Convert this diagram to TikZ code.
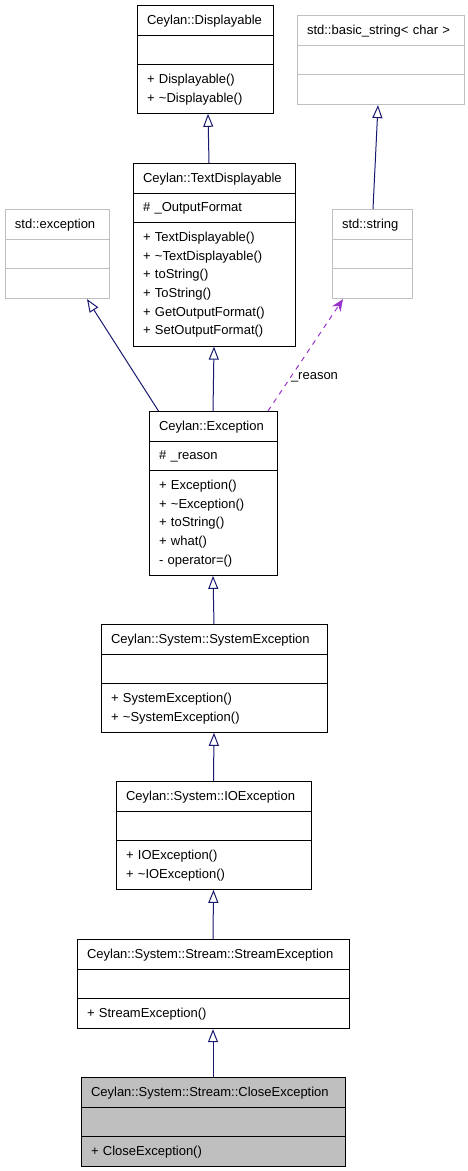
\documentclass[tikz,border=0pt]{standalone}
\usepackage{fontspec}
\setmainfont{Liberation Sans}
\usepackage{tikz}
\usetikzlibrary{arrows.meta,shapes.multipart}
\usepackage{xcolor}
\definecolor{edgeblue}{RGB}{25,25,112}
\definecolor{refpurple}{RGB}{154,50,205}
\definecolor{extgray}{RGB}{191,191,191}
\newcommand{\umlfont}{\fontsize{13}{18.7}\selectfont}
\tikzstyle{umlclass} = [rectangle split, rectangle split parts=3, draw=black, line width=1pt, inner xsep=10pt, inner ysep=5pt, font=\umlfont, align=left, anchor=north]
\tikzstyle{extclass} = [umlclass, draw=extgray]
\tikzstyle{inherit} = [line width=1pt, edgeblue, -{Triangle[open, length=13pt, width=10pt]}]
\tikzstyle{usage} = [line width=1pt, refpurple, dash pattern=on 5pt off 5pt, -{Stealth[length=12pt, width=10pt]}]

\begin{document}
\begin{tikzpicture}[x=1pt, y=-1pt]
    \useasboundingbox (0,0) rectangle (468,1171);

    % Bases at the top
    \node[umlclass, text width=116pt] (disp) at (205,5) {\centering\strut Ceylan::Displayable
        \nodepart{second}\strut
        \nodepart{third}\strut + Displayable()\\+ \textasciitilde Displayable()\strut};
    \node[extclass, text width=147pt] (bstr) at (380.5,15) {\centering\strut std::basic\_string< char >
        \nodepart{second}\strut
        \nodepart{third}\strut};

    % Second level
    \node[umlclass, text width=142pt] (tdisp) at (214,163) {\centering\strut Ceylan::TextDisplayable
        \nodepart{second}\strut \# \_OutputFormat
        \nodepart{third}\strut + TextDisplayable()\\+ \textasciitilde TextDisplayable()\\+ toString()\\+ ToString()\\+ GetOutputFormat()\\+ SetOutputFormat()\strut};
    \node[extclass, text width=84pt] (stdexc) at (57,209) {\centering\strut std::exception
        \nodepart{second}\strut
        \nodepart{third}\strut};
    \node[extclass, text width=60pt] (str) at (372,209) {\centering\strut std::string
        \nodepart{second}\strut
        \nodepart{third}\strut};

    % Exception chain
    \node[umlclass, text width=108pt] (exc) at (213,411) {\centering\strut Ceylan::Exception
        \nodepart{second}\strut \# \_reason
        \nodepart{third}\strut + Exception()\\+ \textasciitilde Exception()\\+ toString()\\+ what()\\- operator=()\strut};
    \node[umlclass, text width=206pt] (sysexc) at (214,624) {\centering\strut Ceylan::System::SystemException
        \nodepart{second}\strut
        \nodepart{third}\strut + SystemException()\\+ \textasciitilde SystemException()\strut};
    \node[umlclass, text width=175pt] (ioexc) at (213.5,781) {\centering\strut Ceylan::System::IOException
        \nodepart{second}\strut
        \nodepart{third}\strut + IOException()\\+ \textasciitilde IOException()\strut};
    \node[umlclass, text width=252pt] (strexc) at (213,939) {\centering\strut Ceylan::System::Stream::StreamException
        \nodepart{second}\strut
        \nodepart{third}\strut + StreamException()};
    \node[umlclass, text width=244pt, fill=extgray] (closeexc) at (213,1077) {\centering\strut Ceylan::System::Stream::CloseException
        \nodepart{second}\strut
        \nodepart{third}\strut + CloseException()};

    % Inheritance
    \draw[inherit] ([xshift=-5pt]tdisp.north) -- ([xshift=3pt]disp.south);
    \draw[inherit] ([xshift=1pt]str.north) -- ([xshift=-2.5pt]bstr.south);
    \draw[inherit] ([xshift=10pt]exc.north west) -- ([xshift=30pt]stdexc.south);
    \draw[inherit] (exc.north) -- (tdisp.south);
    \draw[inherit] (sysexc.north) -- (exc.south);
    \draw[inherit] (ioexc.north) -- (sysexc.south);
    \draw[inherit] (strexc.north) -- (ioexc.south);
    \draw[inherit] (closeexc.north) -- (strexc.south);

    % Member usage
    \draw[usage] ([xshift=55pt]exc.north) -- node[pos=0.3, anchor=west, inner sep=0pt, text=black, font=\umlfont] (reasonlbl) {\_reason} ([xshift=-29pt]str.south);
\end{tikzpicture}
\end{document}
